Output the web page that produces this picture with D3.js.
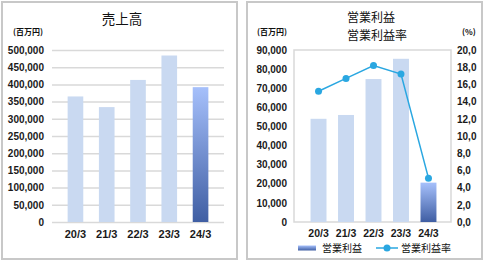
<!DOCTYPE html>
<html>
<head>
<meta charset="utf-8">
<script src="https://cdn.jsdelivr.net/npm/d3@7"></script>
<style>
  body { margin: 0; background: #fff; }
  svg { display: block; font-family: "Noto Sans CJK JP", "Noto Sans", sans-serif; }
  .tick text { font-size: 10px; fill: #1a1a1a; font-weight: 600; }
  .xaxis-left .tick text { font-size: 11px; }
  .xaxis-right .tick text { font-size: 10.5px; }
</style>
</head>
<body>
<svg width="484" height="262"></svg>
<script>
const years = ["20/3", "21/3", "22/3", "23/3", "24/3"];
const sales = [365000, 334000, 413000, 484000, 392000];
const opProfit = [54000, 56000, 74800, 85400, 20600];
const opMargin = [15.2, 16.7, 18.2, 17.2, 5.1];
const salesTicks = d3.range(0, 500001, 50000);
const profitTicks = d3.range(0, 90001, 10000);
const marginTicks = d3.range(0, 20.01, 2);

const svg = d3.select("svg");
const lightBar = "#c9d9f1";
const lineColor = "#2aa7e1";

const defs = svg.append("defs");
const grad = defs.append("linearGradient")
  .attr("id", "lastBar").attr("x1", 0).attr("y1", 0).attr("x2", 0).attr("y2", 1);
grad.append("stop").attr("offset", "0%").attr("stop-color", "#a6c0fb");
grad.append("stop").attr("offset", "100%").attr("stop-color", "#3f5ea3");

const fmt = d3.format(",");
const fmtPct = (d) => d.toFixed(1).replace(".", ",");

// panel frames
svg.append("rect").attr("x", 2).attr("y", 2).attr("width", 235).attr("height", 257)
  .attr("fill", "none").attr("stroke", "#c8c8c8").attr("stroke-width", 2);
svg.append("rect").attr("x", 247).attr("y", 2).attr("width", 235).attr("height", 257)
  .attr("fill", "none").attr("stroke", "#c8c8c8").attr("stroke-width", 2);

// ---- left: 売上高
const x1 = d3.scaleBand().domain(years).range([52, 224]).padding(0.5);
const y1 = d3.scaleLinear().domain([0, 500000]).range([222, 50]);

const g1 = svg.append("g");
g1.append("text").attr("x", 122).attr("y", 24).attr("text-anchor", "middle")
  .attr("font-size", 13.5).attr("fill", "#111").text("売上高");
g1.append("text").attr("x", 13).attr("y", 35)
  .attr("font-size", 8).attr("font-weight", 600).attr("fill", "#111").text("(百万円)");

g1.append("g").attr("transform", "translate(52,0)")
  .call(d3.axisLeft(y1).tickValues(salesTicks).tickFormat(fmt).tickSize(-172).tickPadding(8))
  .call((g) => g.select(".domain").remove())
  .call((g) => g.selectAll(".tick line").attr("stroke", "#d9d9d9").attr("stroke-width", 1.5));

g1.selectAll(".bar").data(years).join("rect")
  .attr("x", (d) => x1(d))
  .attr("y", (d, i) => y1(sales[i]))
  .attr("width", x1.bandwidth())
  .attr("height", (d, i) => y1(0) - y1(sales[i]))
  .attr("fill", (d, i) => (i === years.length - 1 ? "url(#lastBar)" : lightBar));

g1.append("g").attr("class", "xaxis-left").attr("transform", "translate(0,222)")
  .call(d3.axisBottom(x1).tickSize(0).tickPadding(8))
  .call((g) => g.select(".domain").remove());

// ---- right: 営業利益 / 営業利益率
const x2 = d3.scaleBand().domain(years).range([299, 448]).padding(0.42);
const y2 = d3.scaleLinear().domain([0, 90000]).range([222, 50]);
const y3 = d3.scaleLinear().domain([0, 20]).range([222, 50]);

const g2 = svg.append("g");
g2.append("text").attr("x", 347).attr("y", 22)
  .attr("font-size", 12).attr("fill", "#111").text("営業利益");
g2.append("text").attr("x", 347).attr("y", 39.5)
  .attr("font-size", 12).attr("fill", "#111").text("営業利益率");
g2.append("text").attr("x", 257).attr("y", 35)
  .attr("font-size", 8).attr("font-weight", 600).attr("fill", "#111").text("(百万円)");
g2.append("text").attr("x", 462).attr("y", 35)
  .attr("font-size", 8).attr("font-weight", 600).attr("fill", "#111").text("(%)");

g2.append("rect").attr("x", 294).attr("y", 50).attr("width", 157).attr("height", 172)
  .attr("fill", "none").attr("stroke", "#d9d9d9").attr("stroke-width", 1.5);

g2.append("g").attr("transform", "translate(294,0)")
  .call(d3.axisLeft(y2).tickValues(profitTicks).tickFormat(fmt).tickSize(0).tickPadding(7))
  .call((g) => g.select(".domain").remove());
g2.append("g").attr("transform", "translate(451,0)")
  .call(d3.axisRight(y3).tickValues(marginTicks).tickFormat(fmtPct).tickSize(0).tickPadding(6))
  .call((g) => g.select(".domain").remove());

g2.selectAll(".bar").data(years).join("rect")
  .attr("x", (d) => x2(d))
  .attr("y", (d, i) => y2(opProfit[i]))
  .attr("width", x2.bandwidth())
  .attr("height", (d, i) => y2(0) - y2(opProfit[i]))
  .attr("fill", (d, i) => (i === years.length - 1 ? "url(#lastBar)" : lightBar));

const line = d3.line()
  .x((d, i) => x2(years[i]) + x2.bandwidth() / 2)
  .y((d) => y3(d));
g2.append("path").datum(opMargin)
  .attr("fill", "none").attr("stroke", lineColor).attr("stroke-width", 1.5)
  .attr("d", line);
g2.selectAll(".dot").data(opMargin).join("circle")
  .attr("cx", (d, i) => x2(years[i]) + x2.bandwidth() / 2)
  .attr("cy", (d) => y3(d))
  .attr("r", 3.5)
  .attr("fill", lineColor);

g2.append("g").attr("class", "xaxis-right").attr("transform", "translate(0,222)")
  .call(d3.axisBottom(x2).tickSize(0).tickPadding(8))
  .call((g) => g.select(".domain").remove());

// legend
const lg = svg.append("g").attr("transform", "translate(0,248)");
lg.append("rect").attr("x", 298).attr("y", -2.5).attr("width", 18).attr("height", 5)
  .attr("fill", "url(#lastBar)");
lg.append("text").attr("x", 322).attr("y", 4).attr("font-size", 10).attr("fill", "#111")
  .text("営業利益");
lg.append("line").attr("x1", 376).attr("x2", 398).attr("y1", 0).attr("y2", 0)
  .attr("stroke", lineColor).attr("stroke-width", 1.5);
lg.append("circle").attr("cx", 387).attr("cy", 0).attr("r", 3.5).attr("fill", lineColor);
lg.append("text").attr("x", 401).attr("y", 4).attr("font-size", 10).attr("fill", "#111")
  .text("営業利益率");
</script>
</body>
</html>
